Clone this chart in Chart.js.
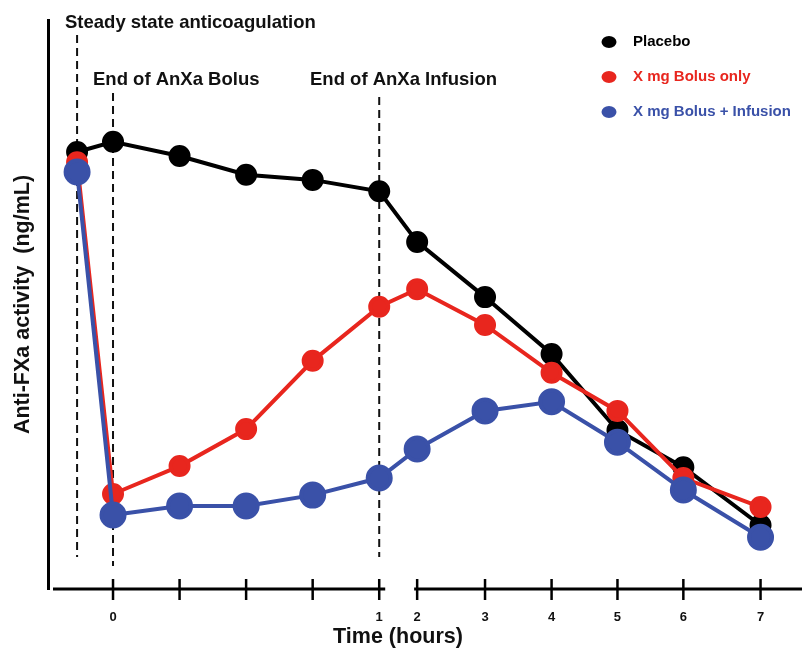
<!DOCTYPE html>
<html>
<head>
<meta charset="utf-8">
<script src="https://cdn.jsdelivr.net/npm/chart.js@4"></script>
<style>
    html, body { margin: 0; padding: 0; background: #fff; overflow: hidden; }
    #wrap { width: 802px; height: 653px; }
    canvas { display: block; }
</style>
</head>
<body>
<div id="wrap"><canvas id="myChart"></canvas></div>
<script>
// sample times on the (broken) time axis: steady state, 0, 15, 30, 45 min, 1h, then 2..7 h
const samplePos = [-0.54, 0, 1, 2, 3, 4, 4.57, 5.59, 6.59, 7.58, 8.57, 9.73];
const tickPos = [0, 1, 2, 3, 4, 4.57, 5.59, 6.59, 7.58, 8.57, 9.73];
const tickLabels = ['0', '', '', '', '1', '2', '3', '4', '5', '6', '7'];

const placebo = [76.8, 78.6, 76.1, 72.8, 71.9, 69.9, 61.0, 51.3, 41.3, 27.9, 21.4, 11.2];
const bolusOnly = [75.0, 16.7, 21.6, 28.1, 40.1, 49.6, 52.7, 46.4, 38.0, 31.3, 19.5, 14.4];
const bolusInfusion = [73.3, 13.0, 14.6, 14.6, 16.5, 19.5, 24.6, 31.3, 32.9, 25.8, 17.4, 9.1];

const markerPos = [-0.54, 0, 4];
const markerLabels = ['Steady state anticoagulation', 'End of AnXa Bolus', 'End of AnXa Infusion'];

const FONT = '"Liberation Sans", Arial, sans-serif';

function toPoints(arr) {
    return arr.map((v, i) => ({ x: samplePos[i], y: v }));
}

// axis line with break, crossing ticks, dashed event lines, labels and legend
const decorPlugin = {
    id: 'decor',
    beforeDatasetsDraw(chart) {
        const ctx = chart.ctx;
        const xs = chart.scales.x;
        const area = chart.chartArea;
        ctx.save();
        ctx.strokeStyle = '#111';
        ctx.lineWidth = 2;
        ctx.setLineDash([8, 5]);
        const tops = [35, 93, 97];
        const bottoms = [557, 566, 557];
        markerPos.forEach((p, i) => {
            const px = xs.getPixelForValue(p);
            ctx.beginPath();
            ctx.moveTo(px, tops[i]);
            ctx.lineTo(px, bottoms[i]);
            ctx.stroke();
        });
        ctx.setLineDash([]);

        ctx.fillStyle = '#111';
        ctx.font = 'bold 18.5px ' + FONT;
        ctx.textBaseline = 'middle';
        ctx.textAlign = 'left';
        ctx.fillText(markerLabels[0], 65, 23);
        ctx.fillText(markerLabels[1], 93, 80);
        ctx.fillText(markerLabels[2], 310, 80);

        // x axis with break between 1 h and 2 h
        const y0 = area.bottom;
        ctx.strokeStyle = '#000';
        ctx.lineWidth = 3;
        ctx.beginPath();
        ctx.moveTo(area.left + 5, y0);
        ctx.lineTo(xs.getPixelForValue(4) + 6, y0);
        ctx.moveTo(xs.getPixelForValue(4.57) - 3, y0);
        ctx.lineTo(chart.width, y0);
        ctx.stroke();
        ctx.lineWidth = 2.5;
        tickPos.forEach(p => {
            const px = xs.getPixelForValue(p);
            ctx.beginPath();
            ctx.moveTo(px, y0 - 10);
            ctx.lineTo(px, y0 + 11);
            ctx.stroke();
        });

        // x axis title, sits a little left of the plot centre
        ctx.textAlign = 'center';
        ctx.font = 'bold 21.5px ' + FONT;
        ctx.fillText('Time (hours)', 398, 637);

        // legend
        ctx.textAlign = 'left';
        const legY = [42, 77, 112];
        chart.data.datasets.forEach((ds, i) => {
            ctx.fillStyle = ds.backgroundColor;
            ctx.beginPath();
            ctx.ellipse(609, legY[i], 7.5, 6, 0, 0, Math.PI * 2);
            ctx.fill();
            ctx.font = 'bold 15px ' + FONT;
            ctx.fillText(ds.label, 633, legY[i]);
        });
        ctx.restore();
    }
};

new Chart(document.getElementById('myChart').getContext('2d'), {
    type: 'line',
    data: {
        datasets: [{
            label: 'Placebo',
            data: toPoints(placebo),
            borderColor: '#000',
            backgroundColor: '#000',
            borderWidth: 4,
            pointRadius: 9,
            pointHoverRadius: 9,
            order: 3
        }, {
            label: 'X mg Bolus only',
            data: toPoints(bolusOnly),
            borderColor: '#e8261e',
            backgroundColor: '#e8261e',
            borderWidth: 4,
            pointRadius: 9,
            pointHoverRadius: 9,
            order: 2
        }, {
            label: 'X mg Bolus + Infusion',
            data: toPoints(bolusInfusion),
            borderColor: '#3a51a8',
            backgroundColor: '#3a51a8',
            borderWidth: 4,
            pointRadius: 11.5,
            pointHoverRadius: 11.5,
            order: 1
        }]
    },
    options: {
        responsive: true,
        maintainAspectRatio: false,
        animation: false,
        layout: { padding: { top: 20, right: 0, bottom: 0, left: 0 } },
        plugins: {
            legend: { display: false },
            tooltip: { enabled: false }
        },
        scales: {
            x: {
                type: 'linear',
                min: -0.977,
                max: 10.12,
                border: { display: false },
                grid: { display: false },
                afterBuildTicks: scale => {
                    scale.ticks = tickPos.map(v => ({ value: v }));
                },
                afterFit: scale => { scale.height = 64; },
                ticks: {
                    autoSkip: false,
                    maxRotation: 0,
                    padding: 13,
                    color: '#111',
                    font: { family: FONT, size: 13, weight: 'bold' },
                    callback: (v, i) => tickLabels[i]
                }
            },
            y: {
                min: 0,
                max: 100,
                border: { display: true, color: '#000', width: 3 },
                grid: { display: false },
                ticks: { display: false },
                afterFit: scale => { scale.width = 48; },
                title: {
                    display: true,
                    text: 'Anti-FXa activity  (ng/mL)',
                    color: '#111',
                    font: { family: FONT, size: 21.5, weight: 'bold' },
                    padding: { top: 10, bottom: 0 }
                }
            }
        }
    },
    plugins: [decorPlugin]
});
</script>
</body>
</html>
